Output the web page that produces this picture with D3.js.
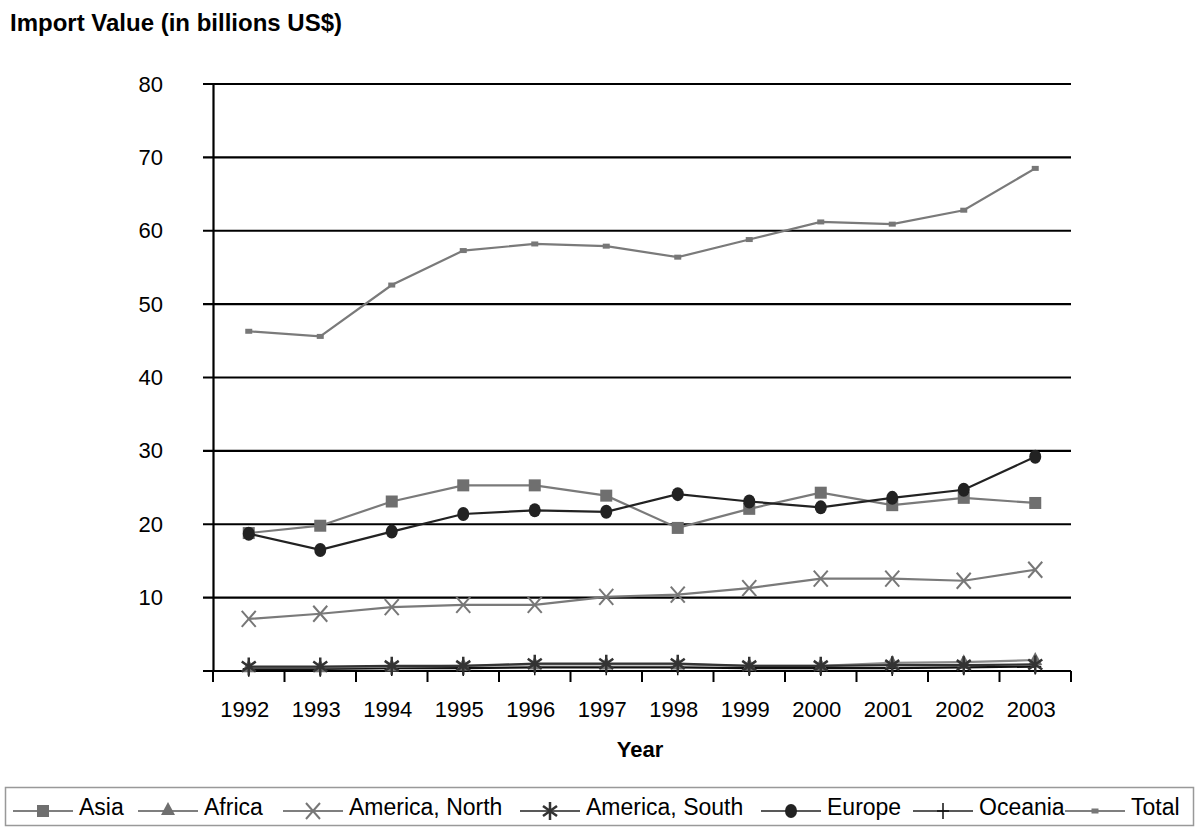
<!DOCTYPE html>
<html>
<head>
<meta charset="utf-8">
<script src="https://cdn.jsdelivr.net/npm/d3@7"></script>
<style>
  body { margin: 0; background: #fff; }
  text { font-family: "Liberation Sans", Arial, sans-serif; }
</style>
</head>
<body>
<div id="chart"></div>
<script>
// data
const years = ['1992', '1993', '1994', '1995', '1996', '1997', '1998', '1999', '2000', '2001', '2002', '2003'];
const yTicks = [10, 20, 30, 40, 50, 60, 70, 80];

const asia = [18.8, 19.8, 23.1, 25.3, 25.3, 23.9, 19.5, 22.1, 24.3, 22.6, 23.6, 22.9];
const africa = [0.5, 0.5, 0.6, 0.7, 0.9, 0.9, 0.9, 0.7, 0.7, 1.1, 1.2, 1.5];
const americaNorth = [7.1, 7.8, 8.7, 9.0, 9.0, 10.1, 10.4, 11.3, 12.6, 12.6, 12.3, 13.8];
const americaSouth = [0.6, 0.6, 0.7, 0.7, 1.0, 1.0, 1.0, 0.7, 0.7, 0.8, 0.8, 0.9];
const europe = [18.7, 16.5, 19.0, 21.4, 21.9, 21.7, 24.1, 23.1, 22.3, 23.6, 24.7, 29.2];
const oceania = [0.3, 0.3, 0.4, 0.4, 0.5, 0.5, 0.5, 0.4, 0.4, 0.4, 0.5, 0.6];
const total = [46.3, 45.6, 52.6, 57.3, 58.2, 57.9, 56.4, 58.8, 61.2, 60.9, 62.8, 68.5];

const width = 1195;
const height = 830;
const plot = { left: 213, right: 1071, top: 84, bottom: 671 };

const series = [
  { name: 'Total', values: total, color: '#7a7a7a', mark: 'dash' },
  { name: 'America, North', values: americaNorth, color: '#7a7a7a', mark: 'x' },
  { name: 'Asia', values: asia, color: '#7a7a7a', mark: 'square' },
  { name: 'Europe', values: europe, color: '#222', mark: 'circle' },
  { name: 'Oceania', values: oceania, color: '#111', mark: 'plus' },
  { name: 'Africa', values: africa, color: '#8a8a8a', mark: 'triangle' },
  { name: 'America, South', values: americaSouth, color: '#333', mark: 'star' }
];

const svg = d3.select('#chart').append('svg')
  .attr('width', width)
  .attr('height', height);

const x = d3.scalePoint().domain(years).range([plot.left, plot.right]).padding(0.5);
const y = d3.scaleLinear().domain([0, 80]).range([plot.bottom, plot.top]);

// gridlines
svg.append('g')
  .selectAll('line')
  .data(yTicks)
  .join('line')
  .attr('x1', plot.left - 10).attr('x2', plot.right)
  .attr('y1', d => y(d)).attr('y2', d => y(d))
  .attr('stroke', '#000').attr('stroke-width', 2.2);

// y axis
const yAxis = svg.append('g')
  .attr('transform', `translate(${plot.left},0)`)
  .call(d3.axisLeft(y).tickValues(yTicks).tickSize(0).tickPadding(50));
yAxis.select('.domain').attr('stroke', '#000').attr('stroke-width', 2.2);
yAxis.selectAll('text').attr('font-size', 22).attr('fill', '#000')
  .attr('font-family', '"Liberation Sans", Arial, sans-serif');

// x axis (ticks at band edges)
const xg = svg.append('g').attr('transform', `translate(0,${plot.bottom})`);
xg.append('line')
  .attr('x1', plot.left - 10).attr('x2', plot.right)
  .attr('stroke', '#000').attr('stroke-width', 2.2);
const step = x.step();
xg.selectAll('.tk')
  .data(d3.range(years.length + 1))
  .join('line')
  .attr('class', 'tk')
  .attr('x1', i => plot.left + i * step).attr('x2', i => plot.left + i * step)
  .attr('y1', 0).attr('y2', 11)
  .attr('stroke', '#000').attr('stroke-width', 2);
xg.selectAll('.lbl')
  .data(years)
  .join('text')
  .attr('class', 'lbl')
  .attr('x', d => x(d) - 4)
  .attr('y', 46)
  .attr('text-anchor', 'middle')
  .attr('font-size', 22)
  .text(d => d);

// axis titles
svg.append('text')
  .attr('x', 10).attr('y', 31)
  .attr('font-size', 24).attr('font-weight', 'bold')
  .text('Import Value (in billions US$)');

svg.append('text')
  .attr('x', 640).attr('y', 757)
  .attr('text-anchor', 'middle')
  .attr('font-size', 22).attr('font-weight', 'bold')
  .text('Year');

function drawMark(g, s, cx, cy) {
  if (s.mark === 'square') {
    g.append('rect').attr('x', cx - 6).attr('y', cy - 6).attr('width', 12).attr('height', 12)
      .attr('fill', '#6f6f6f');
  } else if (s.mark === 'triangle') {
    g.append('path').attr('d', `M${cx},${cy - 8}L${cx + 7},${cy + 5}L${cx - 7},${cy + 5}Z`)
      .attr('fill', '#6f6f6f');
  } else if (s.mark === 'x') {
    g.append('path').attr('d', `M${cx - 7},${cy - 8}L${cx + 7},${cy + 8}M${cx + 7},${cy - 8}L${cx - 7},${cy + 8}`)
      .attr('stroke', '#777').attr('stroke-width', 2).attr('fill', 'none');
  } else if (s.mark === 'star') {
    g.append('path').attr('d', `M${cx},${cy - 9}V${cy + 9}M${cx - 7},${cy - 5}L${cx + 7},${cy + 5}M${cx + 7},${cy - 5}L${cx - 7},${cy + 5}`)
      .attr('stroke', '#333').attr('stroke-width', 2.5).attr('fill', 'none');
  } else if (s.mark === 'circle') {
    g.append('ellipse').attr('cx', cx).attr('cy', cy).attr('rx', 6).attr('ry', 7).attr('fill', '#222');
  } else if (s.mark === 'plus') {
    g.append('path').attr('d', `M${cx},${cy - 8}V${cy + 8}M${cx - 6},${cy}H${cx + 6}`)
      .attr('stroke', '#111').attr('stroke-width', 1.5).attr('fill', 'none');
  } else if (s.mark === 'dash') {
    g.append('rect').attr('x', cx - 3.5).attr('y', cy - 2.5).attr('width', 7).attr('height', 5)
      .attr('fill', '#777');
  }
}

const line = d3.line().x((d, i) => x(years[i])).y(d => y(d));

series.forEach(s => {
  const g = svg.append('g');
  g.append('path')
    .datum(s.values)
    .attr('d', line)
    .attr('fill', 'none')
    .attr('stroke', s.color)
    .attr('stroke-width', 2.2);
  s.values.forEach((v, i) => drawMark(g, s, x(years[i]), y(v)));
});

// legend
const legendOrder = ['Asia', 'Africa', 'America, North', 'America, South', 'Europe', 'Oceania', 'Total'];
const legendX = [13, 138, 283, 520, 761, 913, 1065];
const legendLineY = 811;

svg.append('rect')
  .attr('x', 5.5).attr('y', 787.5).attr('width', 1188).attr('height', 38)
  .attr('fill', 'none').attr('stroke', '#999').attr('stroke-width', 1.5);

legendOrder.forEach((name, i) => {
  const s = series.find(d => d.name === name);
  const g = svg.append('g');
  const x0 = legendX[i];
  g.append('line').attr('x1', x0).attr('x2', x0 + 60)
    .attr('y1', legendLineY).attr('y2', legendLineY)
    .attr('stroke', s.mark === 'x' || s.mark === 'square' || s.mark === 'dash' || s.mark === 'triangle' ? '#555' : '#222')
    .attr('stroke-width', 1.5);
  drawMark(g, s, x0 + 30, legendLineY - (s.mark === 'triangle' ? 1 : 0));
  g.append('text').attr('x', x0 + 66).attr('y', 815)
    .attr('font-size', 23).text(name);
});
</script>
</body>
</html>
